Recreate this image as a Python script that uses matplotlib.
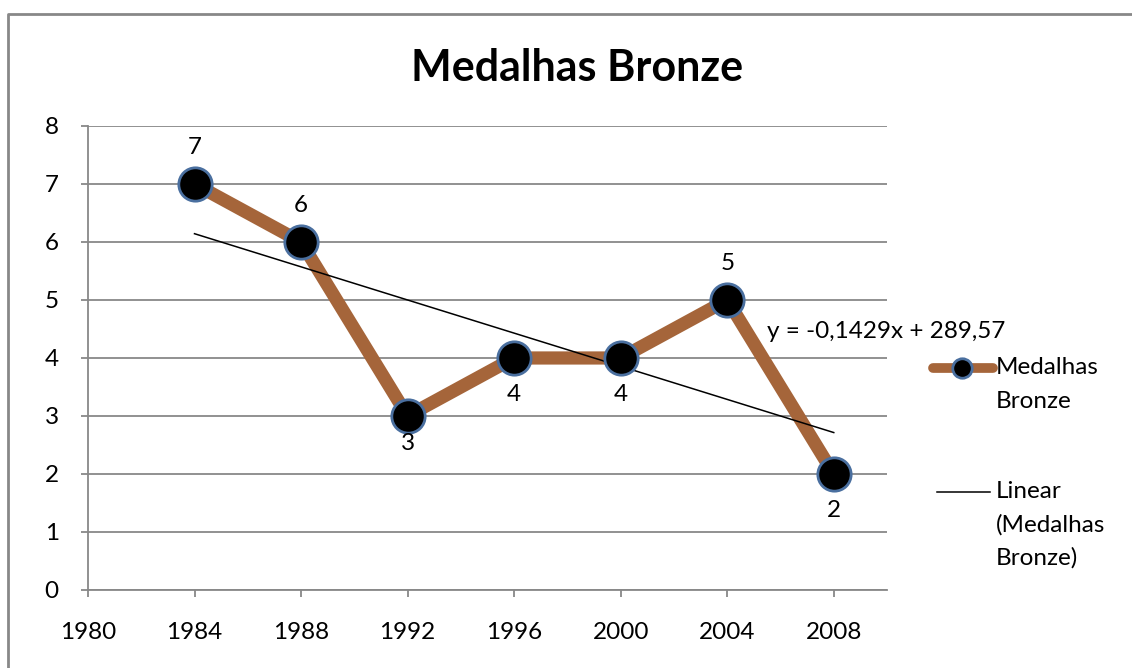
import numpy as np
import matplotlib.pyplot as plt
from matplotlib.lines import Line2D

plt.rcParams['font.family'] = ['Lato', 'DejaVu Sans']

anos = [1984, 1988, 1992, 1996, 2000, 2004, 2008]
bronze = [7, 6, 3, 4, 4, 5, 2]
# posicao do rotulo: acima (1) ou abaixo (-1) do ponto
lado_rotulo = [1, 1, -0.75, -1, -1, 1, -1]
ticks_x = [1980, 1984, 1988, 1992, 1996, 2000, 2004, 2008]

marrom = '#a5653a'
cinza = '#888888'
fs = 17.5

fig = plt.figure(figsize=(11.32, 6.68), dpi=100)
ax = fig.add_axes([0.0777, 0.1168, 0.7059, 0.6946])

# linha de tendencia (minimos quadrados)
a, b = np.polyfit(anos, bronze, 1)
xt = np.array([anos[0], anos[-1]])
ax.plot(xt, a * xt + b, color='black', lw=1.1, zorder=3)

ax.plot(anos, bronze, color=marrom, lw=9.5, solid_capstyle='butt', zorder=2)
ax.plot(anos, bronze, 'o', ms=24, mfc='black', mec='#4a6f9f', mew=2, zorder=4)

for x, y, s in zip(anos, bronze, lado_rotulo):
    ax.annotate(str(y), (x, y), xytext=(0, 26 * s), textcoords='offset points',
                ha='center', va='center', fontsize=fs, zorder=5)

ax.text(2005.5, 4.45, 'y = -0,1429x + 289,57', fontsize=fs, va='center')

ax.set_xlim(1980, 2010)
ax.set_ylim(0, 8)
ax.set_xticks(ticks_x)
ax.set_yticks(range(0, 9))
ax.yaxis.grid(True, color=cinza, lw=1.3)
ax.set_axisbelow(True)
for lado in ['top', 'right']:
    ax.spines[lado].set_visible(False)
for lado in ['left', 'bottom']:
    ax.spines[lado].set_color(cinza)
    ax.spines[lado].set_linewidth(1.3)
ax.tick_params(axis='both', colors=cinza, labelcolor='black', labelsize=fs,
               length=5, width=1.3, direction='out')
ax.tick_params(axis='x', pad=18)
ax.tick_params(axis='y', pad=16)

fig.text(0.51, 0.898, 'Medalhas Bronze', ha='center', va='center',
         fontsize=31, fontweight='bold')

# legenda desenhada a mao
fig.add_artist(Line2D([933 / 1132, 993 / 1132], [1 - 368 / 668] * 2,
                      color=marrom, lw=7, solid_capstyle='round'))
fig.add_artist(Line2D([962 / 1132], [1 - 368 / 668], marker='o', ms=14,
                      mfc='black', mec='#4a6f9f', mew=2))
fig.text(996 / 1132, 1 - 368 / 668, 'Medalhas', fontsize=fs, va='center')
fig.text(996 / 1132, 1 - 401 / 668, 'Bronze', fontsize=fs, va='center')
fig.add_artist(Line2D([937 / 1132, 990 / 1132], [1 - 492 / 668] * 2,
                      color='black', lw=1.1))
fig.text(996 / 1132, 1 - 492 / 668, 'Linear', fontsize=fs, va='center')
fig.text(996 / 1132, 1 - 525 / 668, '(Medalhas', fontsize=fs, va='center')
fig.text(996 / 1132, 1 - 558 / 668, 'Bronze)', fontsize=fs, va='center')

# borda do grafico
fig.add_artist(Line2D([8 / 1132, 8 / 1132, 1], [0, 1 - 14 / 668, 1 - 14 / 668],
                      color=cinza, lw=2))

fig.savefig('out.png', dpi=100)
